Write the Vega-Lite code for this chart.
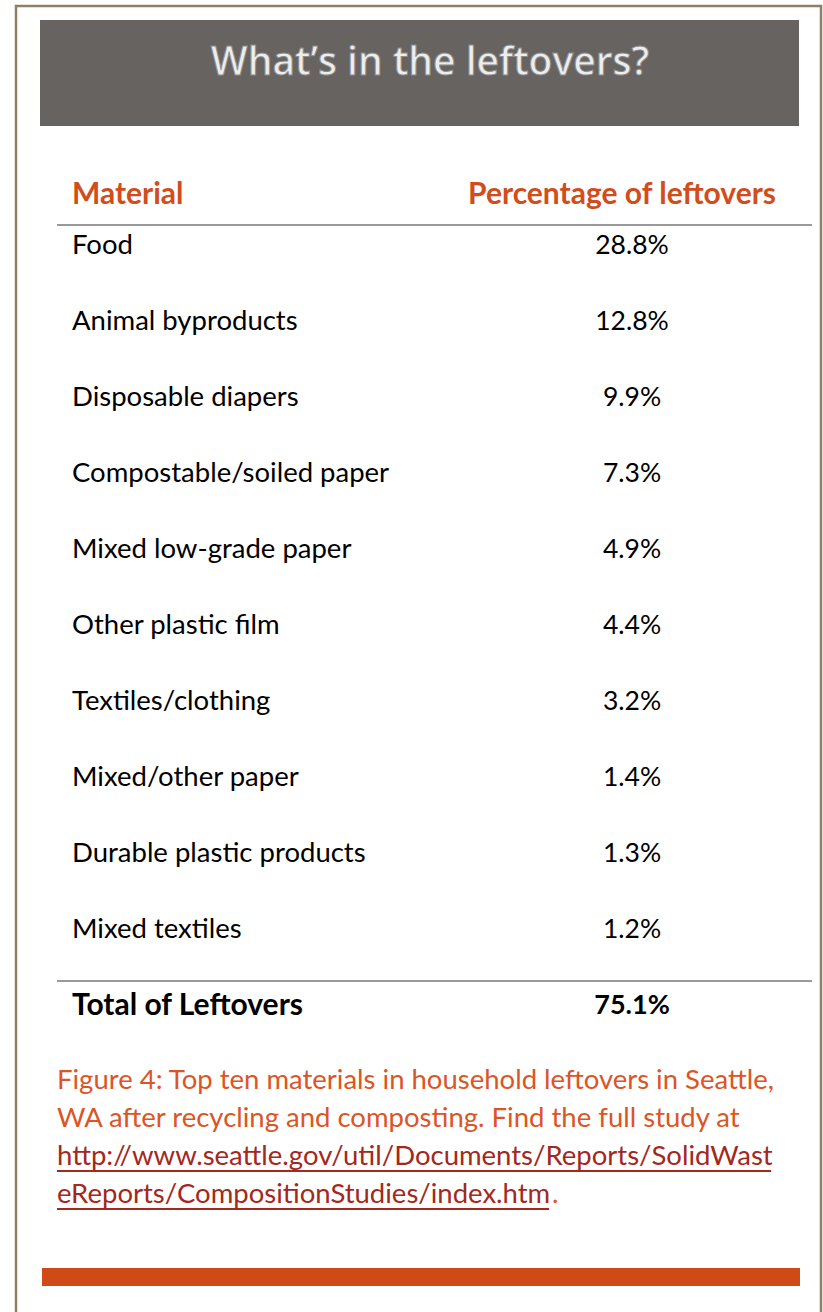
{
  "$schema": "https://vega.github.io/schema/vega-lite/v6.json",
  "width": 823,
  "height": 1312,
  "autosize": {"type": "fit", "contains": "padding"},
  "padding": 0,
  "background": "white",
  "config": {"view": {"stroke": null}, "font": "Lato"},
  "datasets": {
    "rows": [
      {"material": "Food", "share": 0.288, "total": false},
      {"material": "Animal byproducts", "share": 0.128, "total": false},
      {"material": "Disposable diapers", "share": 0.099, "total": false},
      {"material": "Compostable/soiled paper", "share": 0.073, "total": false},
      {"material": "Mixed low-grade paper", "share": 0.049, "total": false},
      {"material": "Other plastic film", "share": 0.044, "total": false},
      {"material": "Textiles/clothing", "share": 0.032, "total": false},
      {"material": "Mixed/other paper", "share": 0.014, "total": false},
      {"material": "Durable plastic products", "share": 0.013, "total": false},
      {"material": "Mixed textiles", "share": 0.012, "total": false},
      {"material": "Total of Leftovers", "share": 0.751, "total": true}
    ]
  },
  "layer": [
    {
      "data": {"values": [{}]},
      "mark": {"type": "rect", "fill": null, "stroke": "#8e7f65", "strokeWidth": 2.5},
      "encoding": {"x": {"value": 16}, "x2": {"value": 821}, "y": {"value": 6}, "y2": {"value": 1340}}
    },
    {
      "data": {"values": [{}]},
      "mark": {"type": "rect", "fill": "#676361"},
      "encoding": {"x": {"value": 40}, "x2": {"value": 799}, "y": {"value": 20}, "y2": {"value": 126}}
    },
    {
      "data": {"values": [{}]},
      "mark": {"type": "text", "font": "Open Sans", "fontSize": 39, "fontWeight": 600, "fill": "#ededed", "stroke": "#8c8c8c", "strokeWidth": 0.9, "align": "center", "baseline": "middle"},
      "encoding": {"x": {"value": 430}, "y": {"value": 63}, "text": {"value": "What’s in the leftovers?"}}
    },
    {
      "data": {"values": [{}]},
      "mark": {"type": "text", "fontSize": 30, "fontWeight": "bold", "fill": "#d24d1c", "align": "left", "baseline": "middle"},
      "encoding": {"x": {"value": 72}, "y": {"value": 195}, "text": {"value": "Material"}}
    },
    {
      "data": {"values": [{}]},
      "mark": {"type": "text", "fontSize": 30, "fontWeight": "bold", "fill": "#d24d1c", "align": "right", "baseline": "middle"},
      "encoding": {"x": {"value": 776}, "y": {"value": 195}, "text": {"value": "Percentage of leftovers"}}
    },
    {
      "data": {"values": [{}]},
      "mark": {"type": "rule", "stroke": "#9a9a9a", "strokeWidth": 2},
      "encoding": {"x": {"value": 57}, "x2": {"value": 812}, "y": {"value": 225}}
    },
    {
      "data": {"values": [{}]},
      "mark": {"type": "rule", "stroke": "#9a9a9a", "strokeWidth": 2},
      "encoding": {"x": {"value": 57}, "x2": {"value": 812}, "y": {"value": 981}}
    },
    {
      "data": {"name": "rows"},
      "mark": {"type": "text", "fontSize": 27.5, "fill": "#000000", "align": "left", "baseline": "middle"},
      "encoding": {
        "x": {"datum": "material", "type": "nominal", "scale": {"type": "point", "domain": ["material", "share"], "range": [72, 632], "padding": 0}, "axis": null},
        "y": {"field": "material", "type": "nominal", "sort": null, "scale": {"type": "point", "range": [246, 1006], "padding": 0}, "axis": null},
        "text": {"field": "material"},
        "opacity": {"condition": {"test": "datum.total", "value": 0}, "value": 1}
      }
    },
    {
      "data": {"name": "rows"},
      "mark": {"type": "text", "fontSize": 30, "fontWeight": "bold", "fill": "#000000", "align": "left", "baseline": "middle"},
      "encoding": {
        "x": {"datum": "material", "type": "nominal"},
        "y": {"field": "material", "type": "nominal", "sort": null},
        "text": {"field": "material"},
        "opacity": {"condition": {"test": "datum.total", "value": 1}, "value": 0}
      }
    },
    {
      "data": {"name": "rows"},
      "mark": {"type": "text", "fontSize": 26.5, "fill": "#000000", "align": "center", "baseline": "middle"},
      "encoding": {
        "x": {"datum": "share", "type": "nominal"},
        "y": {"field": "material", "type": "nominal", "sort": null},
        "text": {"field": "share", "type": "quantitative", "format": ".1%"},
        "opacity": {"condition": {"test": "datum.total", "value": 0}, "value": 1}
      }
    },
    {
      "data": {"name": "rows"},
      "mark": {"type": "text", "fontSize": 27, "fontWeight": "bold", "fill": "#000000", "align": "center", "baseline": "middle"},
      "encoding": {
        "x": {"datum": "share", "type": "nominal"},
        "y": {"field": "material", "type": "nominal", "sort": null},
        "text": {"field": "share", "type": "quantitative", "format": ".1%"},
        "opacity": {"condition": {"test": "datum.total", "value": 1}, "value": 0}
      }
    },
    {
      "data": {"values": [{}]},
      "mark": {"type": "text", "fontSize": 27.5, "fill": "#dc5526", "align": "left", "baseline": "middle"},
      "encoding": {"x": {"value": 57}, "y": {"value": 1081}, "text": {"value": "Figure 4: Top ten materials in household leftovers in Seattle,"}}
    },
    {
      "data": {"values": [{}]},
      "mark": {"type": "text", "fontSize": 27.5, "fill": "#dc5526", "align": "left", "baseline": "middle"},
      "encoding": {"x": {"value": 57}, "y": {"value": 1119}, "text": {"value": "WA after recycling and composting. Find the full study at"}}
    },
    {
      "data": {"values": [{}]},
      "mark": {"type": "text", "fontSize": 27.5, "fill": "#a3281d", "align": "left", "baseline": "middle"},
      "encoding": {"x": {"value": 57}, "y": {"value": 1157}, "text": {"value": "http://www.seattle.gov/util/Documents/Reports/SolidWast"}}
    },
    {
      "data": {"values": [{}]},
      "mark": {"type": "text", "fontSize": 27.5, "fill": "#a3281d", "align": "left", "baseline": "middle"},
      "encoding": {"x": {"value": 57}, "y": {"value": 1195}, "text": {"value": "eReports/CompositionStudies/index.htm"}}
    },
    {
      "data": {"values": [{}]},
      "mark": {"type": "text", "fontSize": 27.5, "fill": "#dc5526", "align": "left", "baseline": "middle"},
      "encoding": {"x": {"value": 552}, "y": {"value": 1195}, "text": {"value": "."}}
    },
    {
      "data": {"values": [{}]},
      "mark": {"type": "rule", "stroke": "#a3281d", "strokeWidth": 2},
      "encoding": {"x": {"value": 57}, "x2": {"value": 771}, "y": {"value": 1171}}
    },
    {
      "data": {"values": [{}]},
      "mark": {"type": "rule", "stroke": "#a3281d", "strokeWidth": 2},
      "encoding": {"x": {"value": 57}, "x2": {"value": 549}, "y": {"value": 1209}}
    },
    {
      "data": {"values": [{}]},
      "mark": {"type": "rect", "fill": "#d04a17"},
      "encoding": {"x": {"value": 42}, "x2": {"value": 800}, "y": {"value": 1268}, "y2": {"value": 1286}}
    }
  ]
}
